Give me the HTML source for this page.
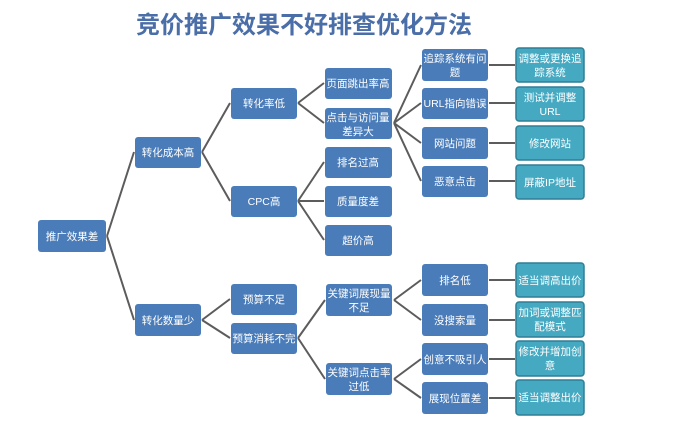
<!DOCTYPE html>
<html><head><meta charset="utf-8"><style>
html,body{margin:0;padding:0;background:#fff;width:675px;height:430px;overflow:hidden}
svg text{font-family:"Liberation Sans","Noto Sans CJK SC",sans-serif;fill:#fff;font-size:10.5px;text-anchor:middle}
.b{fill:#4a7cb9}
.t{fill:#46a9c2;stroke:#2f7f95;stroke-width:1.5}
.l{stroke:#5c5c5c;stroke-width:2;fill:none}
</style></head><body>
<svg width="675" height="430" xmlns="http://www.w3.org/2000/svg">
<text x="304" y="33" style="font-size:24px;font-weight:bold;fill:#4a6ea8;font-family:'Liberation Sans','Noto Sans CJK SC',sans-serif">竞价推广效果不好排查优化方法</text>

<g class="l">
<path d="M107 236 L134 152 M107 236 L134 320"/>
<path d="M202 152 L230 103 M202 152 L230 201"/>
<path d="M202 320 L230 299 M202 320 L230 338"/>
<path d="M298 103 L324 83 M298 103 L324 123"/>
<path d="M298 201 L324 162 M298 201 L324 201 M298 201 L324 240"/>
<path d="M394 123 L421 65 M394 123 L421 103 M394 123 L421 143 M394 123 L421 181"/>
<path d="M298 338 L325 300 M298 338 L325 379"/>
<path d="M394 300 L421 280 M394 300 L421 320"/>
<path d="M394 379 L421 359 M394 379 L421 398"/>
<path d="M489 65 L515 65 M489 103 L515 103 M489 143 L515 143 M489 181 L515 181"/>
<path d="M489 280 L515 280 M489 320 L515 320 M489 359 L515 359 M489 398 L515 398"/>
</g>

<rect class="b" x="38" y="220" width="68" height="32" rx="3"/><text x="72" y="240">推广效果差</text>
<rect class="b" x="135" y="137" width="66" height="31" rx="3"/><text x="168" y="156">转化成本高</text>
<rect class="b" x="135" y="304" width="66" height="32" rx="3"/><text x="168" y="324">转化数量少</text>
<rect class="b" x="231" y="88" width="66" height="31" rx="3"/><text x="264" y="107">转化率低</text>
<rect class="b" x="231" y="186" width="66" height="31" rx="3"/><text x="264" y="205">CPC高</text>
<rect class="b" x="231" y="284" width="66" height="31" rx="3"/><text x="264" y="303">预算不足</text>
<rect class="b" x="231" y="323" width="66" height="31" rx="3"/><text x="264" y="342">预算消耗不完</text>

<rect class="b" x="325" y="68" width="67" height="31" rx="3"/><text x="358" y="87">页面跳出率高</text>
<rect class="b" x="325" y="108" width="67" height="31" rx="3"/><text x="358" y="121">点击与访问量</text><text x="358" y="135">差异大</text>
<rect class="b" x="325" y="147" width="67" height="31" rx="3"/><text x="358" y="166">排名过高</text>
<rect class="b" x="325" y="186" width="67" height="31" rx="3"/><text x="358" y="205">质量度差</text>
<rect class="b" x="325" y="225" width="67" height="31" rx="3"/><text x="358" y="244">超价高</text>
<rect class="b" x="326" y="284" width="66" height="32" rx="3"/><text x="359" y="297">关键词展现量</text><text x="359" y="311">不足</text>
<rect class="b" x="326" y="363" width="66" height="32" rx="3"/><text x="359" y="376">关键词点击率</text><text x="359" y="390">过低</text>

<rect class="b" x="422" y="49" width="66" height="32" rx="3"/><text x="455" y="62">追踪系统有问</text><text x="455" y="76">题</text>
<rect class="b" x="422" y="88" width="66" height="31" rx="3"/><text x="455" y="107">URL指向错误</text>
<rect class="b" x="422" y="127" width="66" height="32" rx="3"/><text x="455" y="147">网站问题</text>
<rect class="b" x="422" y="166" width="66" height="31" rx="3"/><text x="455" y="185">恶意点击</text>
<rect class="b" x="422" y="264" width="66" height="32" rx="3"/><text x="455" y="284">排名低</text>
<rect class="b" x="422" y="304" width="66" height="32" rx="3"/><text x="455" y="324">没搜索量</text>
<rect class="b" x="422" y="343" width="66" height="32" rx="3"/><text x="455" y="363">创意不吸引人</text>
<rect class="b" x="422" y="382" width="66" height="32" rx="3"/><text x="455" y="402">展现位置差</text>

<rect class="t" x="516" y="48" width="68" height="34" rx="3"/><text x="550" y="62">调整或更换追</text><text x="550" y="76">踪系统</text>
<rect class="t" x="516" y="87" width="68" height="34" rx="3"/><text x="550" y="101">测试并调整</text><text x="550" y="115">URL</text>
<rect class="t" x="516" y="126" width="68" height="34" rx="3"/><text x="550" y="147">修改网站</text>
<rect class="t" x="516" y="165" width="68" height="34" rx="3"/><text x="550" y="186">屏蔽IP地址</text>
<rect class="t" x="516" y="263" width="68" height="34" rx="3"/><text x="550" y="284">适当调高出价</text>
<rect class="t" x="516" y="302" width="68" height="35" rx="3"/><text x="550" y="316">加词或调整匹</text><text x="550" y="330">配模式</text>
<rect class="t" x="516" y="341" width="68" height="35" rx="3"/><text x="550" y="355">修改并增加创</text><text x="550" y="369">意</text>
<rect class="t" x="516" y="380" width="68" height="35" rx="3"/><text x="550" y="401">适当调整出价</text>
</svg>
</body></html>
